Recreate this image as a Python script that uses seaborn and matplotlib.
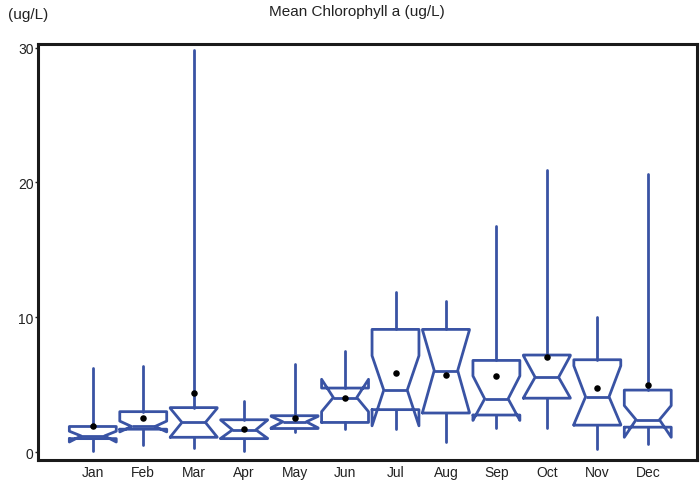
import numpy as np
import pandas as pd
import matplotlib
matplotlib.use("Agg")
import matplotlib.pyplot as plt
import seaborn as sns

# monthly summary of chlorophyll a (ug/L)
months = ["Jan", "Feb", "Mar", "Apr", "May", "Jun", "Jul", "Aug", "Sep", "Oct", "Nov", "Dec"]
whis_lo = [0.05, 0.55, 0.3, 0.05, 1.5, 1.7, 1.7, 0.75, 1.8, 1.8, 0.25, 0.6]
q1 = [1.0, 1.7, 1.1, 1.0, 1.75, 2.2, 3.15, 2.9, 2.75, 4.0, 2.0, 1.85]
medians = [1.2, 1.9, 2.2, 1.65, 2.25, 4.05, 4.6, 6.05, 3.95, 5.55, 4.1, 2.4]
q3 = [1.9, 3.0, 3.3, 2.4, 2.7, 4.75, 9.1, 9.1, 6.8, 7.2, 6.85, 4.6]
whis_hi = [6.25, 6.4, 29.8, 3.8, 6.5, 7.5, 11.9, 11.2, 16.8, 20.9, 10.0, 20.6]
notch_lo = [0.75, 1.5, 1.12, 1.02, 1.8, 3.0, 1.95, 2.95, 2.35, 4.02, 2.05, 1.1]
notch_hi = [1.55, 2.3, 3.25, 2.38, 2.65, 5.4, 7.15, 9.05, 5.65, 7.15, 6.4, 3.45]
means = [1.95, 2.5, 4.4, 1.75, 2.5, 4.05, 5.85, 5.75, 5.65, 7.05, 4.75, 4.95]

blue = "#3953a4"

sns.set_theme(style="ticks")
plt.rcParams["font.family"] = ["Liberation Sans", "DejaVu Sans"]

fig = plt.figure(figsize=(7, 4.81), dpi=100)
ax = fig.add_axes([0.054, 0.042, 0.942, 0.864])

stats = []
for i, m in enumerate(months):
    stats.append({
        "label": m, "whislo": whis_lo[i], "q1": q1[i], "med": medians[i],
        "q3": q3[i], "whishi": whis_hi[i], "cilo": notch_lo[i],
        "cihi": notch_hi[i], "mean": means[i], "fliers": [],
    })

line = dict(color=blue, linewidth=2.0)
ax.bxp(stats, positions=range(len(months)), widths=0.93, shownotches=True,
       showcaps=False, showfliers=False, showmeans=False,
       boxprops=line, whiskerprops=line, medianprops=line)

mean_df = pd.DataFrame({"month": months, "mean": means})
sns.scatterplot(data=mean_df, x=np.arange(len(months)), y="mean", color="black",
                s=22, linewidth=0, zorder=5, ax=ax)

ax.set_xlim(-1.09, 11.98)
ax.set_ylim(-0.57, 30.25)
ax.set_xticks(range(len(months)))
ax.set_xticklabels(months)
ax.set_yticks([0, 10, 20, 30])
ax.set_xlabel("")
ax.set_ylabel("")
ax.tick_params(axis="x", length=0, labelsize=10, pad=4, colors="#222222")
ax.tick_params(axis="y", length=2, width=1, labelsize=10, pad=1, colors="#222222")
for s in ax.spines.values():
    s.set_visible(True)
    s.set_linewidth(2.2)
    s.set_color("#1a1a1a")

fig.text(0.51, 0.975, "Mean Chlorophyll a (ug/L)", ha="center", va="center",
         fontsize=11, color="#222222")
fig.text(0.012, 0.968, "(ug/L)", ha="left", va="center", fontsize=11, color="#222222")

fig.savefig("out.png", dpi=100)
